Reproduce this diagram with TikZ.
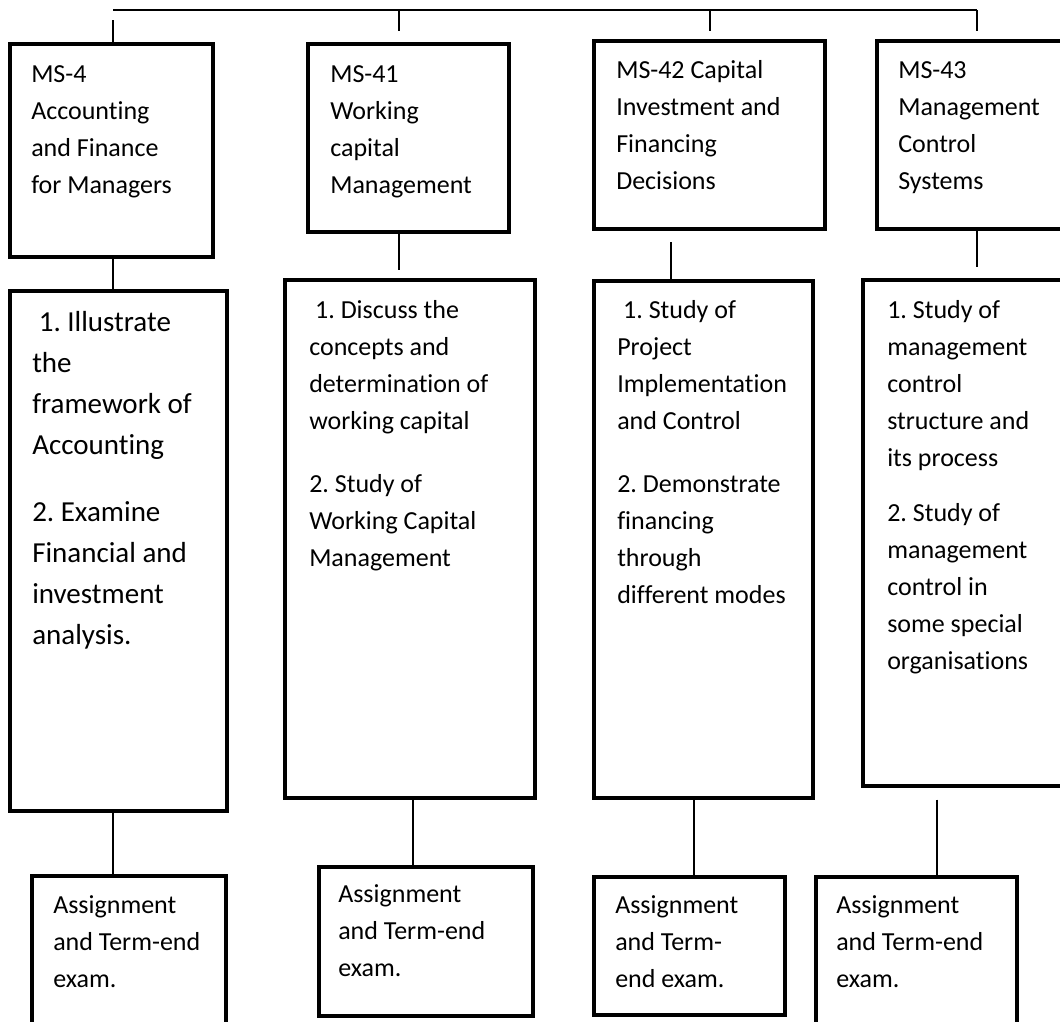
\documentclass[tikz,border=0pt]{standalone}
\usepackage{fontspec}
\setmainfont{Carlito}[Ligatures={NoCommon}, Contextuals={NoAlternate}, RawFeature=-clig]
\frenchspacing
\usetikzlibrary{fit}

\begin{document}
\begin{tikzpicture}[x=0.75pt, y=-0.75pt,
        box/.style={draw, line width=2.6pt, inner sep=0pt},
        link/.style={line width=1.3pt},
        txt/.style={anchor=north west, align=left, inner sep=0pt,
            font=\fontsize{19.5pt}{27.75pt}\selectfont},
        bigtxt/.style={txt, font=\fontsize{21.75pt}{30.75pt}\selectfont}]
                \clip (0, 0) rectangle (1060, 1021);
                % course boxes
                \node [box, fit={(10, 44) (213, 257)}] (c1) {};
                \node [box, fit={(308, 44) (509, 232)}] (c2) {};
                \node [box, fit={(594, 41) (825, 229)}] (c3) {};
                \node [box, fit={(877, 41) (1080, 229)}] (c4) {};
                \node [txt] (c1t) at (31, 56) {\strut MS-4\\Accounting\\and Finance\\for Managers};
                \node [txt] (c2t) at (330, 56) {\strut MS-41\\Working\\capital\\Management};
                \node [txt] (c3t) at (616, 52) {\strut MS-42 Capital\\Investment and\\Financing\\Decisions};
                \node [txt] (c4t) at (898, 52) {\strut MS-43\\Management\\Control\\Systems};
                % outcome boxes
                \node [box, fit={(10, 291) (227, 811)}] (o1) {};
                \node [box, fit={(285, 280) (535, 798)}] (o2) {};
                \node [box, fit={(594, 281) (813, 798)}] (o3) {};
                \node [box, fit={(863, 280) (1080, 786)}] (o4) {};
                \node [bigtxt] (o1t) at (32, 303) {\strut ~1. Illustrate\\the\\framework of\\Accounting\\[19.5pt]2. Examine\\Financial and\\investment\\analysis.};
                \node [txt] (o2t) at (309, 292) {\strut ~1. Discuss the\\concepts and\\determination of\\working capital\\[19.5pt]2. Study of\\Working Capital\\Management};
                \node [txt] (o3t) at (617, 292) {\strut ~1. Study of\\Project\\Implementation\\and Control\\[19.5pt]2. Demonstrate\\financing\\through\\different modes};
                \node [txt] (o4t) at (887, 292) {\strut 1. Study of\\management\\control\\structure and\\its process\\[14pt]2. Study of\\management\\control in\\some special\\organisations};
                % exam boxes
                \node [box, fit={(32, 876) (226, 1040)}] (e1) {};
                \node [box, fit={(319, 867) (533, 1016)}] (e2) {};
                \node [box, fit={(594, 877) (785, 1015)}] (e3) {};
                \node [box, fit={(816, 877) (1017, 1040)}] (e4) {};
                \node [txt] (e1t) at (53, 887) {\strut Assignment\\and Term-end\\exam.};
                \node [txt] (e2t) at (338, 876) {\strut Assignment\\and Term-end\\exam.};
                \node [txt] (e3t) at (615, 887) {\strut Assignment\\and Term-\\end exam.};
                \node [txt] (e4t) at (836, 887) {\strut Assignment\\and Term-end\\exam.};
                % top bar
                \coordinate (b1) at (113, 10);
                \coordinate (b2) at (399, 10);
                \coordinate (b3) at (710, 10);
                \coordinate (b4) at (977, 10);
                \draw [link] (b1) -- (b4);
                \draw [link] ([yshift=-7.5pt]b1) -- (b1 |- c1.north);
                \draw [link] (b2) -- ++(0, 21);
                \draw [link] (b3) -- ++(0, 21);
                \draw [link] (b4) -- ++(0, 21);
                % course to outcome
                \draw [link] (b1 |- c1.south) -- (b1 |- o1.north);
                \draw [link] (b2 |- c2.south) -- ++(0, 36);
                \coordinate (m3) at (671, 242);
                \draw [link] (m3) -- (m3 |- o3.north);
                \draw [link] (b4 |- c4.south) -- ++(0, 36);
                % outcome to exam
                \coordinate (l2) at (413, 0);
                \coordinate (l3) at (694, 0);
                \coordinate (l4) at (937, 0);
                \draw [link] (b1 |- o1.south) -- (b1 |- e1.north);
                \draw [link] (l2 |- o2.south) -- (l2 |- e2.north);
                \draw [link] (l3 |- o3.south) -- (l3 |- e3.north);
                \draw [link] (l4 |- o2.south) -- (l4 |- e4.north);
            \end{tikzpicture}
\end{document}
